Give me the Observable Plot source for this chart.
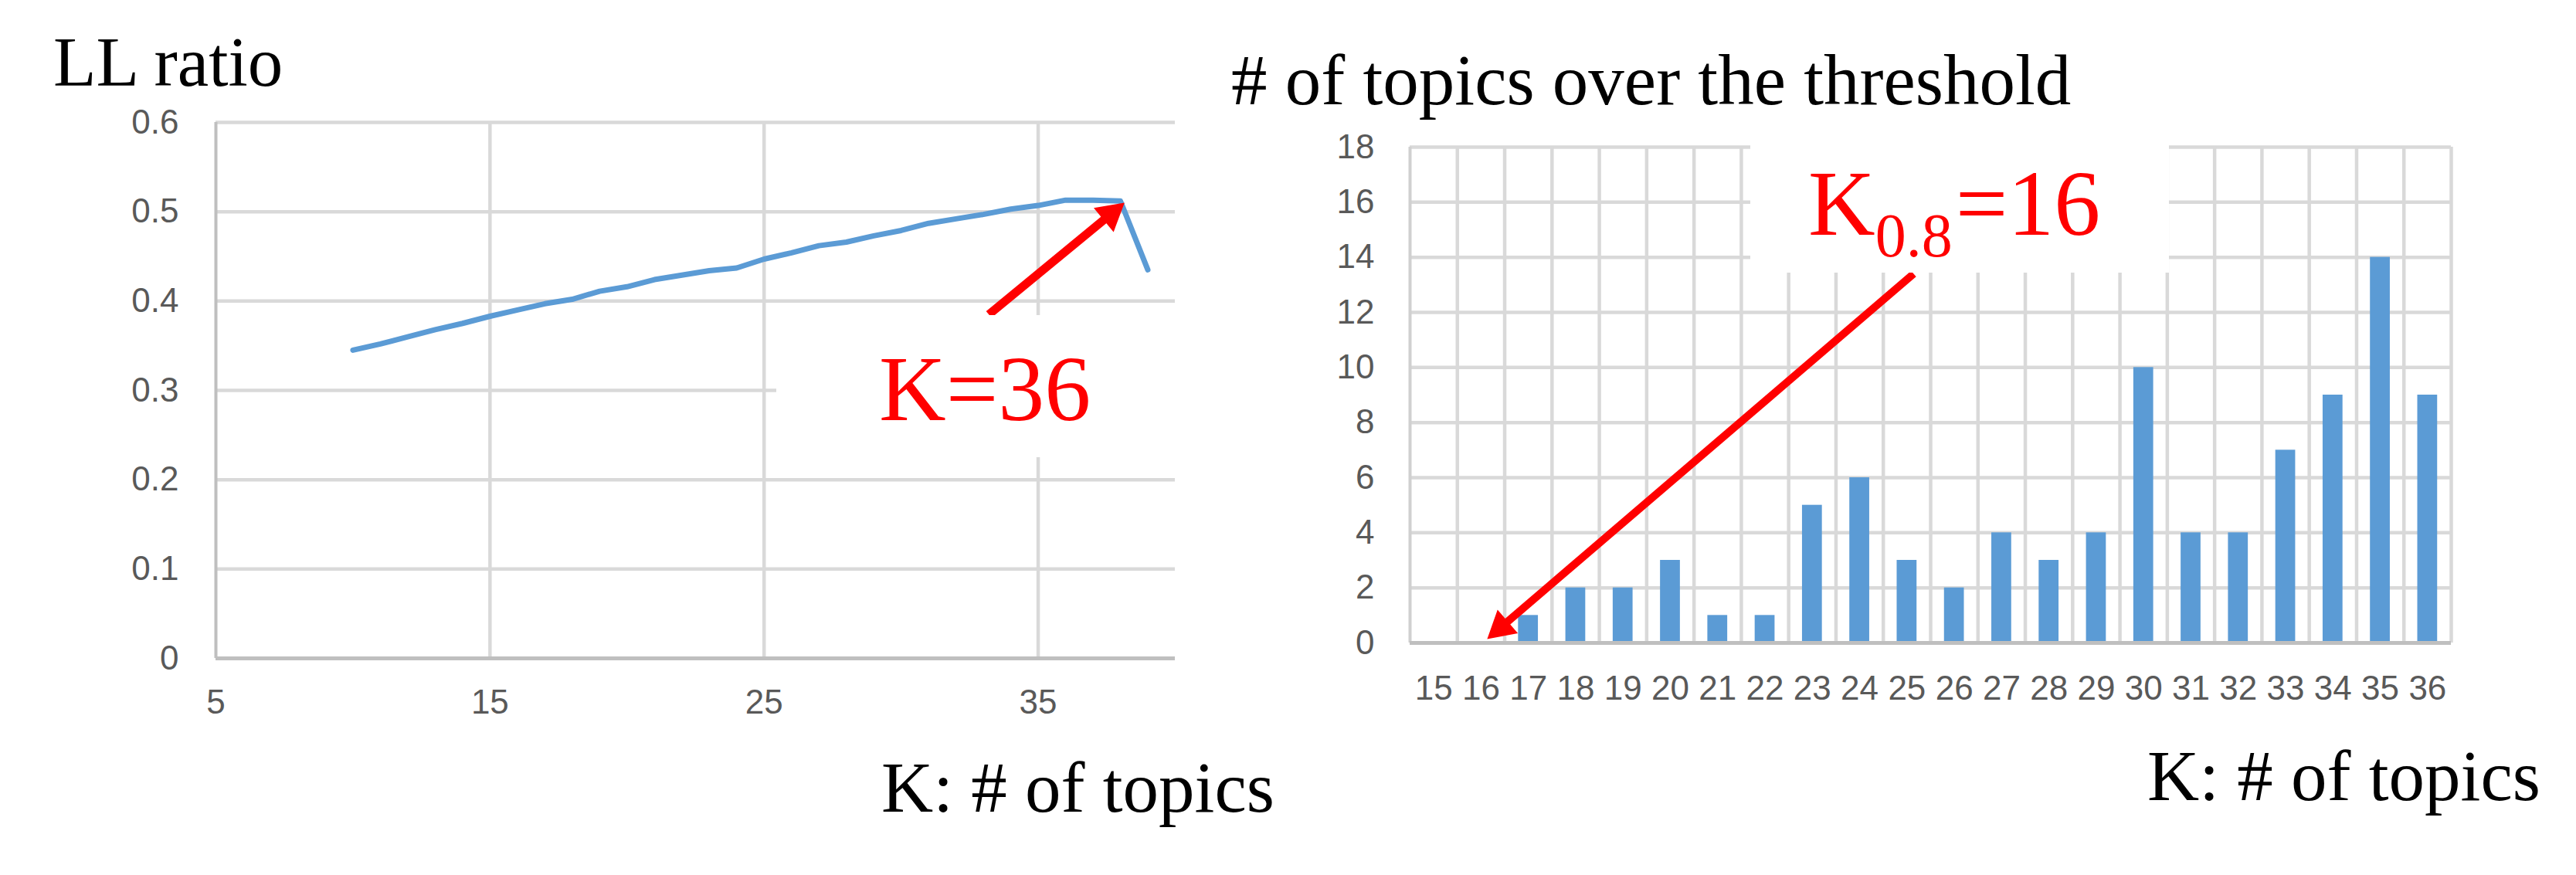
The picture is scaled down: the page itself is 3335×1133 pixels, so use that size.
<!DOCTYPE html>
<html>
<head>
<meta charset="utf-8">
<script src="https://cdn.jsdelivr.net/npm/d3@7"></script>
<script src="https://cdn.jsdelivr.net/npm/@observablehq/plot@0.6"></script>
<style>
  html, body { margin: 0; padding: 0; background: #ffffff; }
  #page { position: relative; width: 3335px; height: 1133px; background: #ffffff; overflow: hidden; }
  .abs { position: absolute; }
  .lbl { position: absolute; white-space: nowrap; line-height: 1; font-family: "Liberation Serif", "Times New Roman", serif; color: #000; }
  .box { position: absolute; background: #ffffff; }
</style>
</head>
<body>
<div id="page"></div>
<script>
// ---------------- data ----------------
// Left chart: LL ratio by K (number of topics)
const llK = [10, 11, 12, 13, 14, 15, 16, 17, 18, 19, 20, 21, 22, 23, 24,
             25, 26, 27, 28, 29, 30, 31, 32, 33, 34, 35, 36, 37, 38, 39];
const llRatio = [0.345, 0.352, 0.360, 0.368, 0.375, 0.383, 0.390, 0.397, 0.402, 0.411,
                 0.416, 0.424, 0.429, 0.434, 0.437, 0.447, 0.454, 0.462, 0.466, 0.473,
                 0.479, 0.487, 0.492, 0.497, 0.503, 0.507, 0.513, 0.513, 0.512, 0.435];
const leftXTicks = [5, 15, 25, 35];
const leftYTicks = [0, 0.1, 0.2, 0.3, 0.4, 0.5, 0.6];
const leftYTickLabels = ["0", "0.1", "0.2", "0.3", "0.4", "0.5", "0.6"];
const leftArrow = [{x1: 33.2, y1: 0.385, x2: 38.15, y2: 0.510}];

// Right chart: number of topics over the threshold by K
const barK = [15, 16, 17, 18, 19, 20, 21, 22, 23, 24, 25, 26, 27, 28, 29, 30, 31, 32, 33, 34, 35, 36];
const barCount = [0, 0, 1, 2, 2, 3, 1, 1, 5, 6, 3, 2, 4, 3, 4, 10, 4, 4, 7, 9, 14, 9];
const rightYTicks = [0, 2, 4, 6, 8, 10, 12, 14, 16, 18];
const rightArrow = [{x1: 25.14, y1: 13.4, x2: 16.13, y2: 0.14}];

// ---------------- helpers ----------------
const BLUE = "#5B9BD5";
const RED = "#FF0000";
const GRID = "#D9D9D9";
const AXIS = "#BFBFBF";
const page = document.getElementById("page");

const lineData = llK.map((k, i) => ({K: k, LL: llRatio[i]}));
const barData = barK.map((k, i) => ({K: k, n: barCount[i]}));

function arrowMarks(a, xs, ys, shaftWidth, r) {
  const d = a[0];
  const px1 = xs.apply(d.x1), py1 = ys.apply(d.y1);
  const px2 = xs.apply(d.x2), py2 = ys.apply(d.y2);
  const dx = px2 - px1, dy = py2 - py1, L = Math.hypot(dx, dy);
  const ux = dx / L, uy = dy / L;
  const angle = Math.atan2(dx, -dy) * 180 / Math.PI;
  const apex = 2 * Math.sqrt(Math.PI / (3 * Math.sqrt(3))) * r;
  return [
    Plot.arrow(a, {x1: "x1", y1: "y1", x2: "x2", y2: "y2", stroke: RED, strokeWidth: shaftWidth,
                   headLength: 0, insetEnd: apex * 0.9, strokeLinecap: "butt"}),
    Plot.dot(a, {x: "x2", y: "y2", symbol: "triangle", r: r, fill: RED, stroke: "none",
                 rotate: angle, dx: -apex * ux, dy: -apex * uy})
  ];
}

function place(el, left, top) {
  const w = document.createElement("div");
  w.className = "abs";
  w.style.left = left + "px";
  w.style.top = top + "px";
  w.appendChild(el);
  page.appendChild(w);
}

function label(html, x, baseline, size, color) {
  const el = document.createElement("div");
  el.className = "lbl";
  el.innerHTML = html;
  el.style.fontSize = size + "px";
  el.style.left = x + "px";
  el.style.top = (baseline - 0.8375 * size) + "px";
  if (color) el.style.color = color;
  page.appendChild(el);
  return el;
}

function box(x, y, w, h) {
  const el = document.createElement("div");
  el.className = "box";
  el.style.left = x + "px"; el.style.top = y + "px";
  el.style.width = w + "px"; el.style.height = h + "px";
  page.appendChild(el);
}

const svgStyle = {
  fontFamily: "'Liberation Sans', Arial, sans-serif",
  fontSize: "44px",
  color: "#595959",
  background: "transparent",
  maxWidth: "none",
  overflow: "visible"
};

// ---------------- left chart ----------------
const leftOpts = {
  width: 1560, height: 850,
  marginLeft: 279, marginRight: 39, marginTop: 58, marginBottom: 98,
  x: {domain: [5, 40], label: null},
  y: {domain: [0, 0.6], label: null},
  style: svgStyle
};
const leftBase = [
  Plot.ruleY(leftYTicks.filter(d => d > 0), {stroke: GRID, strokeWidth: 4.5}),
  Plot.ruleX(leftXTicks.filter(d => d > 5), {stroke: GRID, strokeWidth: 4.5}),
  Plot.ruleX([5], {stroke: AXIS, strokeWidth: 4}),
  Plot.ruleY([0], {stroke: AXIS, strokeWidth: 5}),
  Plot.axisY({ticks: leftYTicks, tickFormat: d => leftYTickLabels[leftYTicks.indexOf(d)],
              tickSize: 0, tickPadding: 48, fontSize: 44, label: null}),
  Plot.axisX({ticks: leftXTicks, tickFormat: d => String(d), tickSize: 0, tickPadding: 40,
              fontSize: 44, label: null}),
  Plot.line(lineData, {x: "K", y: "LL", stroke: BLUE, strokeWidth: 7,
                       strokeLinejoin: "round", strokeLinecap: "round"})
];
const leftProbe = Plot.plot({...leftOpts, marks: leftBase});
const leftChart = Plot.plot({...leftOpts, marks: [
  ...leftBase,
  ...arrowMarks(leftArrow, leftProbe.scale("x"), leftProbe.scale("y"), 11, 15)
]});
place(leftChart, 0, 100);

// ---------------- right chart ----------------
const rightOpts = {
  width: 1640, height: 830,
  marginLeft: 225, marginRight: 67, marginTop: 70, marginBottom: 118,
  x: {domain: [barK[0] - 0.5, barK[barK.length - 1] + 0.5], label: null},
  y: {domain: [0, 18], label: null},
  style: svgStyle
};
const rightBase = [
  Plot.ruleY(rightYTicks.filter(d => d > 0), {stroke: GRID, strokeWidth: 4.5}),
  Plot.ruleX(barK.map(k => k + 0.5), {stroke: GRID, strokeWidth: 4.5}),
  Plot.ruleX([barK[0] - 0.5], {stroke: "#D0D0D0", strokeWidth: 4}),
  Plot.rectY(barData, {x1: d => d.K - 0.21, x2: d => d.K + 0.21, y: "n", fill: BLUE}),
  Plot.ruleY([0], {stroke: AXIS, strokeWidth: 5}),
  Plot.axisY({ticks: rightYTicks, tickFormat: d => String(d), tickSize: 0, tickPadding: 46,
              fontSize: 44, label: null}),
  Plot.axisX({ticks: barK, tickFormat: d => String(d), tickSize: 0, tickPadding: 42,
              fontSize: 44, label: null})
];
const rightProbe = Plot.plot({...rightOpts, marks: rightBase});
const rightChart = Plot.plot({...rightOpts, marks: [
  ...rightBase,
  ...arrowMarks(rightArrow, rightProbe.scale("x"), rightProbe.scale("y"), 10, 15)
]});
place(rightChart, 1600, 120);

// ---------------- text & annotation boxes ----------------
label("LL ratio", 69, 111, 91);
label("K: # of topics", 1141, 1051, 93);
label("# of topics over the threshold", 1594, 135, 93);
label("K: # of topics", 2780, 1036, 93);

box(1005, 408, 530, 184);
label("K=36", 1138, 544, 120, RED);

box(2266, 168, 542, 185);
label('K<span style="font-size:80px;position:relative;top:28px">0.8</span><span style="margin-left:4px">=16</span>',
      2341, 304, 120, RED);
</script>
</body>
</html>
